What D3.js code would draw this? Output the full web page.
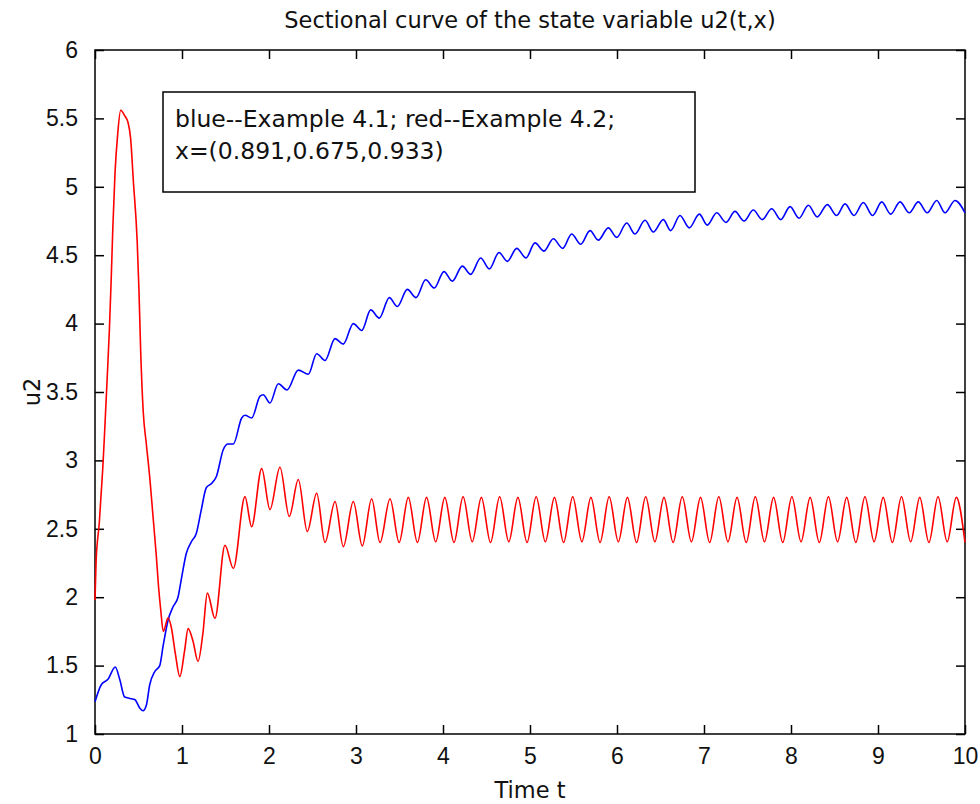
<!DOCTYPE html>
<html>
<head>
<meta charset="utf-8">
<script src="https://cdn.jsdelivr.net/npm/d3@7"></script>
<style>
  body { margin: 0; background: #fff; }
  .axis path { display: none; }
  .axis line { stroke: #000; stroke-width: 1.5; }
  .axis text { font-family: "Liberation Sans", Arial, sans-serif; font-size: 23px; fill: #111; }
  .lbl { font-family: "DejaVu Sans", sans-serif; fill: #111; }
</style>
</head>
<body>
<div id="chart"></div>
<script>
// values (t, u2)
var blueT = [0, 0.072, 0.149, 0.233, 0.284, 0.341, 0.402, 0.46, 0.514, 0.552, 0.59, 0.629, 0.686, 0.744, 0.782, 0.839, 0.897, 0.954, 0.992, 1.049, 1.107, 1.164, 1.222, 1.279, 1.337, 1.394, 1.475, 1.529, 1.59, 1.686, 1.724, 1.801, 1.897, 1.934, 2.011, 2.107, 2.207, 2.337, 2.452, 2.548, 2.644, 2.759, 2.854, 2.969, 3.066, 3.169, 3.268, 3.383, 3.475, 3.59, 3.69, 3.801, 3.9, 4.011, 4.107, 4.222, 4.318, 4.433, 4.532, 4.644, 4.739, 4.847, 4.954, 5.057, 5.161, 5.268, 5.376, 5.479, 5.583, 5.69, 5.785, 5.9, 5.997, 6.111, 6.207, 6.322, 6.417, 6.532, 6.617, 6.724, 6.831, 6.946, 7.038, 7.146, 7.253, 7.356, 7.46, 7.567, 7.67, 7.778, 7.882, 7.989, 8.092, 8.199, 8.302, 8.417, 8.525, 8.621, 8.724, 8.831, 8.939, 9.043, 9.146, 9.253, 9.359, 9.463, 9.566, 9.675, 9.77, 9.885, 10];
var blueU = [1.235, 1.36, 1.40, 1.49, 1.40, 1.27, 1.26, 1.25, 1.19, 1.17, 1.21, 1.36, 1.455, 1.50, 1.64, 1.83, 1.93, 2.00, 2.13, 2.32, 2.405, 2.465, 2.64, 2.80, 2.83, 2.88, 3.08, 3.12, 3.12, 3.31, 3.33, 3.31, 3.47, 3.48, 3.42, 3.56, 3.515, 3.66, 3.63, 3.78, 3.73, 3.89, 3.85, 4.00, 3.95, 4.10, 4.04, 4.19, 4.125, 4.25, 4.19, 4.32, 4.26, 4.38, 4.31, 4.42, 4.36, 4.48, 4.40, 4.52, 4.455, 4.55, 4.48, 4.59, 4.53, 4.62, 4.55, 4.655, 4.58, 4.68, 4.61, 4.70, 4.63, 4.735, 4.655, 4.755, 4.67, 4.76, 4.68, 4.79, 4.70, 4.80, 4.72, 4.81, 4.74, 4.82, 4.75, 4.83, 4.76, 4.84, 4.76, 4.855, 4.77, 4.865, 4.78, 4.87, 4.79, 4.875, 4.79, 4.885, 4.79, 4.89, 4.80, 4.89, 4.81, 4.89, 4.81, 4.90, 4.81, 4.90, 4.81];

var redT = [0, 0.012, 0.05, 0.07, 0.09, 0.11, 0.14, 0.165, 0.185, 0.205, 0.23, 0.26, 0.295, 0.34, 0.38, 0.41, 0.44, 0.485, 0.505, 0.525, 0.555, 0.59, 0.63, 0.667, 0.705, 0.73, 0.755, 0.785, 0.84, 0.877, 0.923, 0.975, 1.03, 1.07, 1.126, 1.184, 1.241, 1.291, 1.379, 1.494, 1.59, 1.724, 1.80, 1.916, 2.011, 2.126, 2.233, 2.337, 2.44, 2.548, 2.644, 2.759, 2.854, 2.969, 3.072, 3.18, 3.276, 3.391, 3.496, 3.601, 3.706, 3.811, 3.916, 4.021, 4.126, 4.231, 4.336, 4.441, 4.546, 4.651, 4.756, 4.861, 4.966, 5.071, 5.176, 5.281, 5.386, 5.491, 5.596, 5.70, 5.805, 5.91, 6.015, 6.12, 6.225, 6.33, 6.435, 6.54, 6.645, 6.75, 6.855, 6.96, 7.065, 7.17, 7.275, 7.38, 7.485, 7.59, 7.695, 7.80, 7.905, 8.01, 8.115, 8.22, 8.325, 8.43, 8.535, 8.64, 8.745, 8.85, 8.955, 9.06, 9.165, 9.27, 9.375, 9.48, 9.585, 9.69, 9.795, 9.90, 10];
var redU = [1.98, 2.25, 2.55, 2.75, 2.95, 3.2, 3.6, 3.95, 4.3, 4.7, 5.1, 5.38, 5.56, 5.52, 5.47, 5.35, 5.05, 4.6, 4.25, 3.8, 3.35, 3.12, 2.87, 2.59, 2.30, 2.08, 1.91, 1.75, 1.85, 1.78, 1.59, 1.42, 1.61, 1.77, 1.68, 1.53, 1.74, 2.03, 1.845, 2.38, 2.21, 2.735, 2.515, 2.94, 2.64, 2.95, 2.59, 2.86, 2.48, 2.76, 2.40, 2.70, 2.37, 2.70, 2.375, 2.72, 2.40, 2.72, 2.40, 2.73, 2.40, 2.73, 2.405, 2.73, 2.40, 2.735, 2.405, 2.73, 2.40, 2.735, 2.405, 2.73, 2.40, 2.735, 2.405, 2.73, 2.40, 2.735, 2.405, 2.73, 2.40, 2.735, 2.405, 2.73, 2.40, 2.735, 2.405, 2.73, 2.40, 2.735, 2.405, 2.73, 2.40, 2.735, 2.405, 2.73, 2.40, 2.735, 2.405, 2.73, 2.40, 2.735, 2.405, 2.73, 2.40, 2.735, 2.405, 2.73, 2.40, 2.735, 2.405, 2.73, 2.40, 2.735, 2.405, 2.73, 2.40, 2.735, 2.405, 2.73, 2.40];

var xTicks = [0, 1, 2, 3, 4, 5, 6, 7, 8, 9, 10];
var yTicks = [1, 1.5, 2, 2.5, 3, 3.5, 4, 4.5, 5, 5.5, 6];
var legendLines = ["blue--Example 4.1; red--Example 4.2;", "x=(0.891,0.675,0.933)"];

var W = 980, H = 804;
var margin = {top: 50, right: 15, bottom: 70, left: 95};
var width = W - margin.left - margin.right,
    height = H - margin.top - margin.bottom;

var svg = d3.select("#chart").append("svg")
    .attr("width", W)
    .attr("height", H);

var g = svg.append("g")
    .attr("transform", "translate(" + margin.left + "," + margin.top + ")");

var x = d3.scaleLinear().domain([0, 10]).range([0, width]);
var y = d3.scaleLinear().domain([1, 6]).range([height, 0]);

// axes, ticks pointing inwards like matlab
g.append("g").attr("class", "axis")
    .attr("transform", "translate(0," + height + ")")
    .call(d3.axisBottom(x).tickValues(xTicks).tickSizeInner(-9).tickSizeOuter(0).tickPadding(14).tickFormat(d3.format("d")));
g.append("g").attr("class", "axis")
    .call(d3.axisTop(x).tickValues(xTicks).tickSizeInner(-9).tickSizeOuter(0).tickFormat(""));
g.append("g").attr("class", "axis")
    .call(d3.axisLeft(y).tickValues(yTicks).tickSizeInner(-9).tickSizeOuter(0).tickPadding(17).tickFormat(function(d) { return "" + d; }));
g.append("g").attr("class", "axis")
    .attr("transform", "translate(" + width + ",0)")
    .call(d3.axisRight(y).tickValues(yTicks).tickSizeInner(-9).tickSizeOuter(0).tickFormat(""));

g.append("rect")
    .attr("width", width).attr("height", height)
    .attr("fill", "none").attr("stroke", "#000").attr("stroke-width", 1.5);

var line = d3.line()
    .x(function(d) { return x(d[0]); })
    .y(function(d) { return y(d[1]); })
    .curve(d3.curveMonotoneX);

g.append("path")
    .datum(blueT.map(function(t, i) { return [t, blueU[i]]; }))
    .attr("d", line)
    .attr("fill", "none").attr("stroke", "#0000ff").attr("stroke-width", 1.6);

g.append("path")
    .datum(redT.map(function(t, i) { return [t, redU[i]]; }))
    .attr("d", line)
    .attr("fill", "none").attr("stroke", "#ff0000").attr("stroke-width", 1.6);

// legend box
var leg = svg.append("g").attr("transform", "translate(163,92)");
leg.append("rect")
    .attr("width", 532).attr("height", 100)
    .attr("fill", "#fff").attr("stroke", "#000").attr("stroke-width", 1.5);
leg.selectAll("text.leg")
    .data(legendLines)
    .enter().append("text")
    .attr("class", "lbl")
    .attr("x", 12)
    .attr("y", function(d, i) { return 35 + i * 32; })
    .style("font-size", "23.5px")
    .text(function(d) { return d; });

// title and axis labels
svg.append("text").attr("class", "lbl")
    .attr("x", 530).attr("y", 28)
    .attr("text-anchor", "middle")
    .style("font-size", "22.5px")
    .text("Sectional curve of the state variable u2(t,x)");

svg.append("text").attr("class", "lbl")
    .attr("x", 530).attr("y", 798)
    .attr("text-anchor", "middle")
    .style("font-size", "22.5px")
    .text("Time t");

svg.append("text").attr("class", "lbl")
    .attr("transform", "translate(40,392) rotate(-90)")
    .attr("text-anchor", "middle")
    .style("font-size", "22.5px")
    .text("u2");
</script>
</body>
</html>
